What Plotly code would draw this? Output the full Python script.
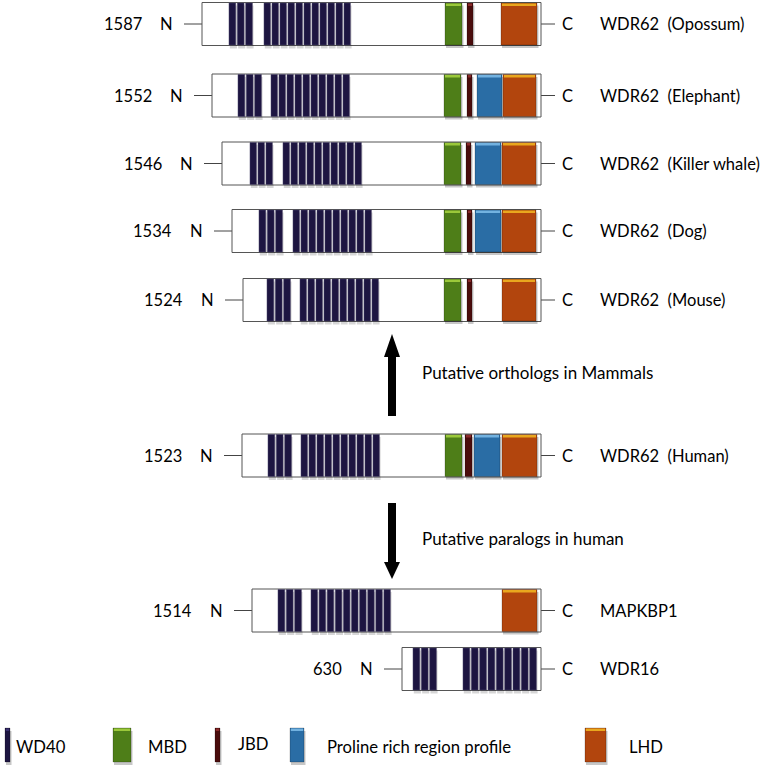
import plotly.graph_objects as go

# ---------------- data (schematic units, x along the protein, y row centre) -------------
proteins = ["WDR62  (Opossum)", "WDR62  (Elephant)", "WDR62  (Killer whale)", "WDR62  (Dog)",
            "WDR62  (Mouse)", "WDR62  (Human)", "MAPKBP1", "WDR16"]
lengths = ["1587", "1552", "1546", "1534", "1524", "1523", "1514", "630"]
row_y = [24, 95.5, 163.5, 231, 300, 455.5, 610.5, 669]
box_start = [202, 212, 222, 232, 243, 242, 252, 402]
box_end = [541, 541, 541, 541, 541, 541, 541, 541]

wd40_a_start = [229, 238, 250, 259, 267, 268, 278, 413]
wd40_a_end = [254, 263, 274, 284, 292, 293, 303, 438]
wd40_a_n = [3, 3, 3, 3, 3, 3, 3, 3]
wd40_b_start = [264, 271, 283, 293, 300, 301, 311, 463]
wd40_b_end = [352, 351, 363, 373, 380, 381, 392, 538]
wd40_b_n = [11, 10, 10, 10, 10, 10, 10, 9]

mbd = [(445, 462), (444, 461), (444, 461), (444, 461), (444, 461), (445, 462), None, None]
jbd = [(467, 473), (467, 472), (466, 471), (467, 472), (467, 472), (465, 472), None, None]
pro = [None, (477, 502), (475, 501), (475, 501), None, (474, 500), None, None]
lhd = [(501, 537), (503, 536), (502, 536), (502, 536), (502, 536), (502, 537), (502, 537), None]

legend_names = ["WD40", "MBD", "JBD", "Proline rich region profile", "LHD"]
arrow_texts = ["Putative orthologs in Mammals", "Putative paralogs in human"]

# ---------------- styles ----------------
FONT = "Lato, 'Open Sans', sans-serif"
FS = 16.5
HALF = 21.5
colors = {
    "WD40": ("#1d1541", "#3a3070"),
    "MBD": ("#4e7e18", "#9bc83a"),
    "JBD": ("#4a0c0c", "#8a2a2a"),
    "Proline rich region profile": ("#2a6da5", "#72b2e0"),
    "LHD": ("#b2450d", "#e9a71e"),
}

shapes = []
annotations = []


def rect(x0, x1, y0, y1, fill, line_color=None, lw=0, opacity=1.0):
    shapes.append(dict(type="rect", xref="x", yref="y", x0=x0, x1=x1, y0=y0, y1=y1,
                       fillcolor=fill, opacity=opacity,
                       line=dict(color=line_color or fill, width=lw)))


def domain(x0, x1, yc, key, shadow=True):
    base, hi = colors[key]
    top, bot = yc - HALF + 0.5, yc + HALF - 0.5
    if shadow:
        rect(x0 + 1, x1 + 1.5, top + 2.5, bot + 3, "rgba(0,0,0,0.22)")
    rect(x0, x1, top, bot, base, "rgba(0,0,0,0.35)", 0.6)
    rect(x0 + 1, x1 - 1, top + 0.5, top + 3, hi)


def line(x0, y0, x1, y1, color="#444444", w=1):
    shapes.append(dict(type="line", xref="x", yref="y", x0=x0, y0=y0, x1=x1, y1=y1,
                       line=dict(color=color, width=w)))


def text(x, y, s, anchor="left", size=FS):
    annotations.append(dict(x=x, y=y, xref="x", yref="y", text=s, showarrow=False,
                            xanchor=anchor, yanchor="middle",
                            font=dict(family=FONT, size=size, color="#000000")))


for i in range(len(proteins)):
    yc = row_y[i]
    bs, be = box_start[i], box_end[i]
    line(bs - 18, yc, bs, yc)
    line(be, yc, be + 14, yc)
    rect(bs, be, yc - HALF, yc + HALF, "white", "#555555", 1)
    for s, e, n in ((wd40_a_start[i], wd40_a_end[i], wd40_a_n[i]),
                    (wd40_b_start[i], wd40_b_end[i], wd40_b_n[i])):
        pitch = (e - s) / n
        for k in range(n):
            x0 = s + k * pitch
            x1 = x0 + pitch - 1.6
            rect(x0 + 0.8, x1 + 1.2, yc - HALF + 3, yc + HALF + 3, "rgba(0,0,0,0.16)")
        for k in range(n):
            x0 = s + k * pitch
            x1 = x0 + pitch - 1.6
            rect(x0, x1, yc - HALF + 0.5, yc + HALF - 0.5, colors["WD40"][0], "#4b4468", 0.5)
    for key, d in (("MBD", mbd[i]), ("JBD", jbd[i]),
                   ("Proline rich region profile", pro[i]), ("LHD", lhd[i])):
        if d is not None:
            domain(d[0], d[1], yc, key)
    text(bs - 58, yc, lengths[i], "right")
    text(bs - 36, yc, "N", "center")
    text(be + 26, yc, "C", "center")
    text(598, yc, proteins[i], "left")

# ---------------- arrows ----------------
ax = 392
rect(ax - 4, ax + 4, 356, 416, "black")
shapes.append(dict(type="path", xref="x", yref="y",
                   path=f"M {ax-8},357 L {ax+8},357 L {ax},334 Z",
                   fillcolor="black", line=dict(color="black", width=0)))
text(420, 372, arrow_texts[0], size=17)
rect(ax - 4, ax + 4, 503, 563, "black")
shapes.append(dict(type="path", xref="x", yref="y",
                   path=f"M {ax-8},562 L {ax+8},562 L {ax},579 Z",
                   fillcolor="black", line=dict(color="black", width=0)))
text(420, 538, arrow_texts[1], size=17)

# ---------------- legend ----------------
leg_rect = [(5, 10), (113, 131), (215, 220), (290, 304), (585, 606)]
leg_text_x = [14, 146, 236, 325, 627]
leg_text_y = [747, 747, 744, 747, 747]
for name, (x0, x1), tx, ty in zip(legend_names, leg_rect, leg_text_x, leg_text_y):
    base, hi = colors[name]
    rect(x0 + 1, x1 + 1.5, 731, 765, "rgba(0,0,0,0.22)")
    rect(x0, x1, 728, 762, base, "rgba(0,0,0,0.35)", 0.6)
    rect(x0 + 0.8, x1 - 0.8, 728.5, 731, hi)
    text(tx, ty, name, size=16.7)

fig = go.Figure()
fig.update_layout(
    width=761, height=770,
    margin=dict(l=0, r=0, t=0, b=0),
    paper_bgcolor="white", plot_bgcolor="white",
    xaxis=dict(range=[0, 761], visible=False, fixedrange=True),
    yaxis=dict(range=[770, 0], visible=False, fixedrange=True),
    shapes=shapes, annotations=annotations, showlegend=False,
)
fig.write_html("out.html", config={"displayModeBar": False, "staticPlot": True},
               post_script="document.body.style.margin='0';document.body.style.overflow='hidden';")
